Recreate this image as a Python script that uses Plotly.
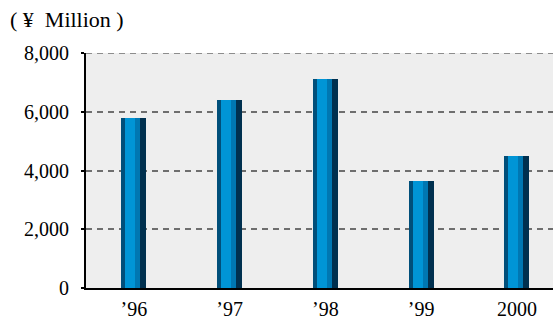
import plotly.graph_objects as go

# Yearly figures, in millions of yen
years = ["’96", "’97", "’98", "’99", "2000"]
values = [5800, 6400, 7100, 3650, 4500]
y_ticks = [0, 2000, 4000, 6000, 8000]
y_tick_text = ["0", "2,000", "4,000", "6,000", "8,000"]

W, H = 553, 320
L, R, T, B = 86, 0, 53, 27
cat_px = 95.75  # pixel width of one category slot
y_top = 8000

x_pos = list(range(len(years)))

# Each column is built from four vertical stripes for a shaded, cylinder look
stripes = [  # (left offset px from centre, width px, colour)
    (-12.5, 4, "#004f7a"),
    (-8.5, 10, "#0095d6"),
    (1.5, 5, "#0077b2"),
    (6.5, 6, "#00304f"),
]

fig = go.Figure()
for off, w, col in stripes:
    fig.add_trace(go.Bar(
        x=x_pos, y=values,
        offset=off / cat_px, width=w / cat_px,
        marker=dict(color=col, line=dict(width=0)),
        hoverinfo="skip", showlegend=False,
    ))

plot_w = W - L - R
plot_h = H - T - B
x_max = -0.5 + plot_w / cat_px

font = dict(family="Liberation Serif, Times New Roman, serif", size=20, color="#000")
grid_color, grid_width, grid_dash = "#6e6e6e", 1.6, "6px,5px"

fig.update_layout(
    width=W, height=H,
    margin=dict(l=L, r=R, t=T, b=B, pad=0),
    paper_bgcolor="#ffffff",
    plot_bgcolor="#eeeeee",
    barmode="overlay",
    bargap=0,
    font=font,
    xaxis=dict(
        range=[-0.5, x_max],
        tickvals=x_pos, ticktext=years,
        showgrid=False, zeroline=False,
        showline=True, linecolor="#000", linewidth=2,
        ticks="", ticklabelstandoff=2,
        tickfont=font,
        fixedrange=True,
    ),
    yaxis=dict(
        range=[0, y_top],
        tickvals=y_ticks, ticktext=y_tick_text,
        showgrid=True, gridcolor=grid_color, gridwidth=grid_width,
        griddash=grid_dash,
        zeroline=False,
        showline=True, linecolor="#000", linewidth=2,
        ticks="outside", ticklen=3, tickwidth=2, tickcolor="#000",
        ticklabelstandoff=8,
        tickfont=font,
        fixedrange=True,
    ),
    # the grid line on the top edge of the axis range is drawn explicitly
    shapes=[dict(
        type="line", xref="paper", yref="y",
        x0=0, x1=1, y0=y_top, y1=y_top,
        line=dict(color=grid_color, width=grid_width, dash=grid_dash),
        layer="above",
    )],
    annotations=[dict(
        text="(\u00a0¥\u00a0\u00a0Million\u00a0)",
        xref="paper", yref="paper",
        x=(8 - L) / plot_w, y=(H - B - 19) / plot_h,
        xanchor="left", yanchor="middle",
        showarrow=False, font=dict(font, size=22),
    )],
)

fig.write_html("out.html")
